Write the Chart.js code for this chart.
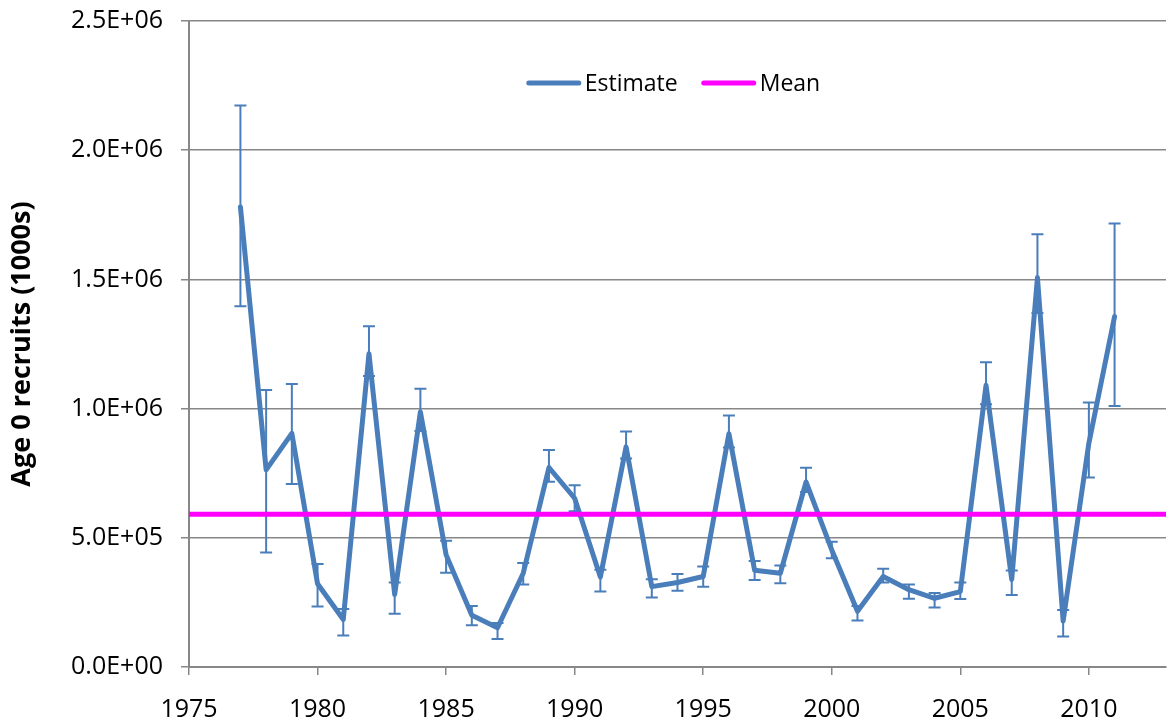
<!DOCTYPE html>
<html>
<head>
<meta charset="utf-8">
<script src="https://cdn.jsdelivr.net/npm/chart.js@4.4.1/dist/chart.umd.min.js"></script>
<style>
  html, body { margin: 0; padding: 0; background: #fff; }
</style>
</head>
<body>
<canvas id="recruitsChart" width="1167" height="721"></canvas>
<script>
// Age 0 recruits, annual estimates with error bars and long-term mean
const years = [1977, 1978, 1979, 1980, 1981, 1982, 1983, 1984, 1985, 1986,
               1987, 1988, 1989, 1990, 1991, 1992, 1993, 1994, 1995, 1996,
               1997, 1998, 1999, 2000, 2001, 2002, 2003, 2004, 2005, 2006,
               2007, 2008, 2009, 2010, 2011];
const estimates = [1780000, 763000, 904000, 322000, 184000, 1212000, 281000, 987000, 434000, 200000,
                   152000, 363000, 772000, 653000, 348000, 852000, 311000, 327000, 350000, 903000,
                   374000, 363000, 716000, 453000, 216000, 350000, 299000, 266000, 292000, 1090000,
                   339000, 1507000, 178000, 866000, 1356000];
const errLow = [1396000, 443000, 708000, 234000, 122000, 1126000, 206000, 913000, 365000, 162000,
                108000, 319000, 717000, 603000, 292000, 807000, 269000, 295000, 311000, 849000,
                337000, 324000, 677000, 421000, 180000, 327000, 264000, 230000, 263000, 1017000,
                279000, 1370000, 118000, 733000, 1010000];
const errHigh = [2173000, 1072000, 1095000, 399000, 224000, 1319000, 327000, 1077000, 489000, 236000,
                 170000, 402000, 840000, 703000, 376000, 911000, 340000, 360000, 389000, 973000,
                 410000, 393000, 771000, 485000, 236000, 380000, 319000, 286000, 327000, 1179000,
                 373000, 1675000, 221000, 1024000, 1716000];
const meanYears = [1975, 2013];
const meanValues = [591000, 591000];
const xTicks = [1975, 1980, 1985, 1990, 1995, 2000, 2005, 2010];
const yTicks = [0, 500000, 1000000, 1500000, 2000000, 2500000];

const blue = '#4a7ebb';
const magenta = '#ff00ff';
const gridGray = '#878787';

Chart.defaults.font.family = '"Open Sans", sans-serif';
Chart.defaults.color = '#000';

function sciLabel(v) {
  if (v === 0) return '0.0E+00';
  const e = Math.floor(Math.log10(v) + 1e-9);
  const m = v / Math.pow(10, e);
  return m.toFixed(1) + 'E+' + String(e).padStart(2, '0');
}

// error bars drawn under the line
const errorBars = {
  id: 'errorBars',
  beforeDatasetsDraw(chart) {
    const ctx = chart.ctx;
    const xs = chart.scales.x, ys = chart.scales.y;
    ctx.save();
    ctx.strokeStyle = blue;
    ctx.lineWidth = 2;
    years.forEach((yr, i) => {
      const px = xs.getPixelForValue(yr);
      const lo = ys.getPixelForValue(errLow[i]);
      const hi = ys.getPixelForValue(errHigh[i]);
      ctx.beginPath();
      ctx.moveTo(px, lo); ctx.lineTo(px, hi);
      ctx.moveTo(px - 6, lo); ctx.lineTo(px + 6, lo);
      ctx.moveTo(px - 6, hi); ctx.lineTo(px + 6, hi);
      ctx.stroke();
    });
    ctx.restore();
  }
};

// legend sits inside the plot area, near the top
const insideLegend = {
  id: 'insideLegend',
  afterDraw(chart) {
    const ctx = chart.ctx;
    const area = chart.chartArea;
    const items = chart.data.datasets;
    const lineLen = 54, gap = 4, itemGap = 24;
    ctx.save();
    ctx.font = '23px "Open Sans", sans-serif';
    const widths = items.map(d => lineLen + gap + ctx.measureText(d.label).width);
    const total = widths.reduce((a, b) => a + b, 0) + itemGap * (items.length - 1);
    let x = area.left + (area.width - total) / 2 - 4;
    const y = area.top + 62;
    items.forEach((d, i) => {
      ctx.strokeStyle = d.borderColor;
      ctx.lineWidth = 5;
      ctx.lineCap = 'round';
      ctx.beginPath();
      ctx.moveTo(x + 2, y); ctx.lineTo(x + lineLen - 2, y);
      ctx.stroke();
      ctx.fillStyle = '#000';
      ctx.textBaseline = 'middle';
      ctx.fillText(d.label, x + lineLen + gap, y + 1);
      x += widths[i] + itemGap;
    });
    ctx.restore();
  }
};

new Chart(document.getElementById('recruitsChart').getContext('2d'), {
  type: 'line',
  data: {
    datasets: [
      {
        label: 'Estimate',
        data: years.map((yr, i) => ({ x: yr, y: estimates[i] })),
        borderColor: blue,
        borderWidth: 5,
        borderJoinStyle: 'round',
        borderCapStyle: 'round',
        pointRadius: 0,
        tension: 0,
        order: 1
      },
      {
        label: 'Mean',
        data: meanYears.map((yr, i) => ({ x: yr, y: meanValues[i] })),
        borderColor: magenta,
        borderWidth: 5,
        pointRadius: 0,
        tension: 0,
        order: 0
      }
    ]
  },
  options: {
    responsive: false,
    animation: false,
    layout: { padding: { top: 21, right: 1, bottom: 0, left: 0 } },
    plugins: {
      legend: { display: false },
      tooltip: { enabled: false }
    },
    scales: {
      x: {
        type: 'linear',
        min: 1975,
        max: 2013,
        afterBuildTicks: s => { s.ticks = xTicks.map(v => ({ value: v })); },
        afterFit: s => { s.height = 54; },
        grid: { drawOnChartArea: false, drawTicks: true, tickLength: 8, color: gridGray, lineWidth: 1.5 },
        border: { color: gridGray, width: 2 },
        ticks: { font: { size: 25 }, padding: 20, maxRotation: 0, callback: v => String(v) }
      },
      y: {
        min: 0,
        max: 2500000,
        afterBuildTicks: s => { s.ticks = yTicks.map(v => ({ value: v })); },
        afterFit: s => { s.width = 189; s.paddingTop = 0; s.paddingBottom = 0; },
        grid: { color: gridGray, lineWidth: 1.5, tickLength: 8 },
        border: { color: gridGray, width: 2 },
        ticks: { font: { size: 25 }, padding: 18, callback: v => sciLabel(v) },
        title: {
          display: true,
          text: 'Age 0 recruits (1000s)',
          font: { size: 27, weight: 'bold' },
          padding: { top: 6, bottom: 0 }
        }
      }
    }
  },
  plugins: [errorBars, insideLegend]
});
</script>
</body>
</html>
